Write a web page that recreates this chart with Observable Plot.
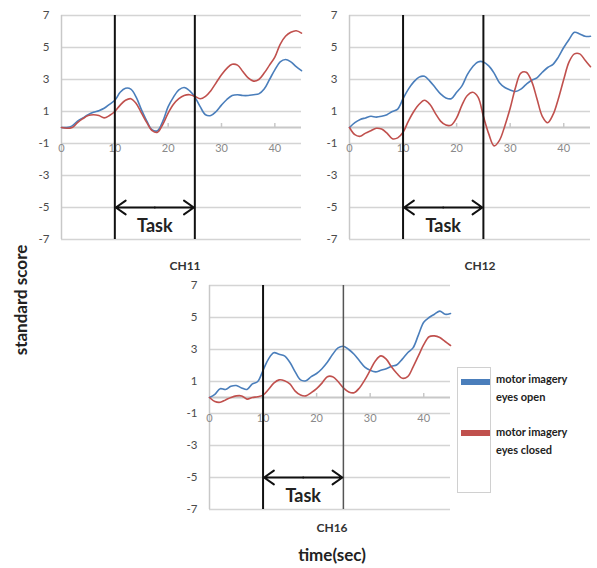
<!DOCTYPE html>
<html>
<head>
<meta charset="utf-8">
<script src="https://cdn.jsdelivr.net/npm/d3@7"></script>
<script src="https://cdn.jsdelivr.net/npm/@observablehq/plot@0.6"></script>
<style>
  html, body { margin: 0; padding: 0; background: #fff; }
  #root { position: relative; width: 597px; height: 568px; font-family: Lato, "Open Sans", sans-serif; }
  .panel { position: absolute; }
  .lbl { position: absolute; white-space: nowrap; color: #333; }
</style>
</head>
<body>
<div id="root"></div>
<script>
// time axis (seconds)
const time = d3.range(0, 46);
const xTicks = [0, 10, 20, 30, 40];
const yTicks = [-7, -5, -3, -1, 1, 3, 5, 7];
const taskBounds = [10, 25];
const seriesNames = ["motor imagery eyes open", "motor imagery eyes closed"];
const seriesColors = ["#4a7ebb", "#c0504d"];

const ch11Open = [0, 0.0, 0.1, 0.4, 0.6, 0.8, 0.95, 1.05, 1.2, 1.45, 1.7, 2.2, 2.45, 2.4, 1.9, 1.1, 0.4, -0.15, -0.2, 0.4, 1.3, 1.9, 2.35, 2.5, 2.3, 1.9, 1.3, 0.8, 0.75, 1.0, 1.4, 1.75, 2.0, 2.05, 2.0, 2.0, 2.05, 2.1, 2.4, 3.0, 3.6, 4.1, 4.25, 4.1, 3.8, 3.55];
const ch11Closed = [0, -0.05, 0.0, 0.3, 0.55, 0.75, 0.8, 0.75, 0.6, 0.75, 1.0, 1.4, 1.7, 1.8, 1.5, 0.9, 0.3, -0.2, -0.3, 0.2, 0.9, 1.45, 1.8, 2.0, 2.05, 1.95, 1.8, 1.95, 2.3, 2.8, 3.3, 3.7, 3.95, 3.9, 3.5, 3.1, 2.9, 3.0, 3.4, 3.9, 4.4, 5.2, 5.7, 5.95, 6.05, 5.9];
const ch12Open = [0, 0.3, 0.5, 0.6, 0.7, 0.65, 0.7, 0.8, 1.0, 1.15, 1.8, 2.4, 2.85, 3.15, 3.2, 2.9, 2.5, 2.1, 1.85, 1.8, 2.2, 2.6, 3.3, 3.8, 4.1, 4.1, 3.85, 3.4, 2.8, 2.5, 2.35, 2.25, 2.4, 2.7, 2.95, 3.1, 3.45, 3.75, 3.95, 4.4, 5.0, 5.5, 5.95, 5.85, 5.7, 5.7];
const ch12Closed = [0, -0.45, -0.55, -0.35, -0.2, -0.05, -0.1, -0.35, -0.7, -0.65, -0.3, 0.4, 1.0, 1.45, 1.7, 1.45, 0.9, 0.4, 0.15, 0.15, 0.6, 1.4, 2.0, 2.2, 1.9, 0.7, -0.4, -1.15, -0.8, 0.1, 1.2, 2.5, 3.4, 3.45, 2.9, 1.8, 0.7, 0.3, 0.8, 1.8, 3.0, 4.1, 4.6, 4.6, 4.2, 3.8];
const ch16Open = [0, 0.2, 0.55, 0.5, 0.7, 0.75, 0.6, 0.5, 0.85, 1.0, 1.7, 2.4, 2.8, 2.7, 2.6, 2.2, 1.6, 1.1, 1.05, 1.3, 1.5, 1.8, 2.2, 2.7, 3.1, 3.2, 3.0, 2.7, 2.3, 1.9, 1.7, 1.6, 1.7, 1.8, 1.95, 2.05, 2.4, 2.8, 3.1, 3.9, 4.7, 5.0, 5.2, 5.4, 5.2, 5.25];
const ch16Closed = [0, -0.25, -0.3, -0.15, 0.0, 0.1, 0.1, -0.1, 0.0, 0.05, 0.15, 0.5, 0.9, 1.1, 1.05, 0.85, 0.4, 0.15, 0.1, 0.3, 0.55, 0.9, 1.3, 1.3, 1.0, 0.6, 0.35, 0.3, 0.6, 1.1, 1.7, 2.3, 2.6, 2.4, 1.9, 1.5, 1.2, 1.3, 1.9, 2.6, 3.3, 3.8, 3.85, 3.75, 3.5, 3.25];

const panels = [
  {name: "CH11", open: ch11Open, closed: ch11Closed, left: 0, top: 0, width: 305, ml: 61, mr: 4, lineStyles: [["#111", 2], ["#111", 2]], labelX: 185, labelY: 265},
  {name: "CH12", open: ch12Open, closed: ch12Closed, left: 300, top: 0, width: 297, ml: 49, mr: 7, lineStyles: [["#111", 2], ["#111", 2]], labelX: 480, labelY: 265},
  {name: "CH16", open: ch16Open, closed: ch16Closed, left: 150, top: 270, width: 305, ml: 59, mr: 5, lineStyles: [["#111", 2], ["#555", 1.5]], labelX: 332, labelY: 527}
];

const root = document.getElementById("root");

function label(text, x, y, opts = {}) {
  const d = document.createElement("div");
  d.className = "lbl";
  d.textContent = text;
  d.style.left = x + "px";
  d.style.top = y + "px";
  d.style.fontSize = (opts.size || 12) + "px";
  d.style.fontWeight = opts.weight || "bold";
  d.style.transform = opts.transform || "translate(-50%, -50%)";
  if (opts.color) d.style.color = opts.color;
  root.appendChild(d);
  return d;
}

for (const p of panels) {
  const rows = [];
  time.forEach((t, i) => {
    rows.push({t, v: p.open[i], s: seriesNames[0]});
    rows.push({t, v: p.closed[i], s: seriesNames[1]});
  });
  const mid = (taskBounds[0] + taskBounds[1]) / 2;
  const taskRows = taskBounds.map((b, i) => ({b, stroke: p.lineStyles[i][0], w: p.lineStyles[i][1]}));
  const chart = Plot.plot({
    width: p.width,
    height: 250,
    marginLeft: p.ml,
    marginRight: p.mr,
    marginTop: 15,
    marginBottom: 11,
    style: {fontFamily: "Lato, 'Open Sans', sans-serif", background: "transparent", overflow: "visible"},
    x: {type: "linear", domain: [0, 45], axis: null},
    y: {type: "linear", domain: [-7, 7], axis: null},
    color: {domain: seriesNames, range: seriesColors},
    marks: [
      Plot.ruleY(yTicks, {y: d => d, stroke: "#d4d4d4", strokeWidth: 1.5}),
      Plot.ruleX([0], {x: d => d, stroke: "#c8c8c8", strokeWidth: 1.5}),
      Plot.ruleY([0], {y: d => d, stroke: "#c8c8c8", strokeWidth: 2}),
      Plot.ruleX(xTicks.slice(1), {x: d => d, y1: 0, y2: 0.25, stroke: "#c8c8c8", strokeWidth: 1.5}),
      Plot.text(yTicks, {x: 0, y: d => d, dx: -12, textAnchor: "end", fontSize: 11.5, fill: "#4a4a4a"}),
      Plot.text(xTicks, {x: d => d, y: 0, dy: 21, fontSize: 11, fill: "#8a8a8a"}),
      Plot.line(rows, {x: "t", y: "v", z: "s", stroke: "s", strokeWidth: 1.6, curve: "catmull-rom"}),
      Plot.ruleX(taskRows, {x: "b", y1: -7, y2: 7, stroke: "stroke", strokeWidth: "w"}),
      Plot.arrow(taskBounds, {x1: mid, x2: d => d, y1: -5, y2: -5, stroke: "#111", strokeWidth: 2, headLength: 9, headAngle: 70, insetEnd: 1}),
      Plot.text(["Task"], {x: mid, y: -6.15, fontSize: 18, fontWeight: "bold", fill: "#222"})
    ]
  });
  chart.classList.add("panel");
  chart.style.left = p.left + "px";
  chart.style.top = p.top + "px";
  root.appendChild(chart);
  label(p.name, p.labelX, p.labelY, {size: 12, color: "#333"});
}

// axis titles
label("time(sec)", 332, 554, {size: 17, color: "#222"});
label("standard score", 20, 300, {size: 17, color: "#222", transform: "translate(-50%, -50%) rotate(-90deg)"});

// legend
const legend = document.createElement("div");
legend.style.cssText = "position:absolute;left:457px;top:367px;width:34px;height:126px;border:1px solid #d0d0d0;box-sizing:border-box;";
root.appendChild(legend);
const legendRows = [
  {swatchY: 382, lines: ["motor imagery", "eyes open"], textY: [378, 396]},
  {swatchY: 433, lines: ["motor imagery", "eyes closed"], textY: [431, 449]}
];
legendRows.forEach((r, i) => {
  const sw = document.createElement("div");
  sw.style.cssText = `position:absolute;left:461px;top:${r.swatchY - 3}px;width:29px;height:6px;background:${seriesColors[i]};`;
  root.appendChild(sw);
  r.lines.forEach((t, j) => label(t, 496, r.textY[j], {size: 11, color: "#222", weight: "bold", transform: "translate(0, -50%)"}));
});
</script>
</body>
</html>
